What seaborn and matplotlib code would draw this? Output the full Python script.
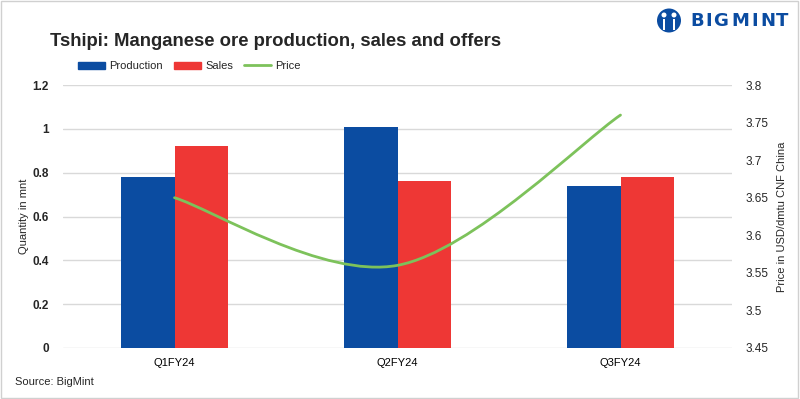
import matplotlib
matplotlib.use("Agg")
import matplotlib.pyplot as plt
import seaborn as sns
import pandas as pd
import numpy as np
from matplotlib.path import Path
from matplotlib.patches import PathPatch, Rectangle, Ellipse
from matplotlib.lines import Line2D
from matplotlib.patches import Patch

quarters = ["Q1FY24", "Q2FY24", "Q3FY24"]
production = [0.78, 1.01, 0.74]
sales = [0.92, 0.76, 0.78]
price = [3.65, 3.56, 3.76]
left_ticks = [0, 0.2, 0.4, 0.6, 0.8, 1.0, 1.2]
left_labels = ["0", "0.2", "0.4", "0.6", "0.8", "1", "1.2"]
right_ticks = [3.45, 3.5, 3.55, 3.6, 3.65, 3.7, 3.75, 3.8]
right_labels = ["3.45", "3.5", "3.55", "3.6", "3.65", "3.7", "3.75", "3.8"]

C_PROD = "#0b4ca1"
C_SALES = "#ee3735"
C_PRICE = "#7dc25b"
GRID = "#d9d9d9"

sns.set_theme(style="white")
plt.rcParams['font.family'] = ['Liberation Sans', 'DejaVu Sans']

df = pd.DataFrame({
    "Quarter": quarters * 2,
    "Value": production + sales,
    "Series": ["Production"] * 3 + ["Sales"] * 3,
})

W, H = 800, 399
fig = plt.figure(figsize=(8, 3.99), dpi=100)
ax = fig.add_axes([63/W, 1-348/H, (732-63)/W, (348-85)/H])
sns.barplot(data=df, x="Quarter", y="Value", hue="Series", order=quarters,
            hue_order=["Production", "Sales"], palette=[C_PROD, C_SALES],
            width=0.48, saturation=1, ax=ax, legend=False, errorbar=None)
for p in ax.patches:
    p.set_edgecolor("none")
ax.set_ylim(0, 1.2)
ax.set_xlim(-0.5, 2.5)
ax.set_yticks(left_ticks)
ax.set_yticklabels(left_labels, fontsize=8.5, fontweight="bold")
ax.yaxis.grid(True, color=GRID, linewidth=1)
ax.set_axisbelow(True)
for s in ax.spines.values():
    s.set_visible(False)
ax.tick_params(axis="y", length=0, pad=10)
ax.tick_params(axis="x", length=0, pad=7, labelsize=8)
ax.set_xlabel("")
ax.set_ylabel("Quantity in mnt", fontsize=8, labelpad=3)
for lbl in ax.get_xticklabels():
    lbl.set_color("black")

ax2 = ax.twinx()
ax2.set_ylim(3.45, 3.8)
ax2.set_yticks(right_ticks)
ax2.set_yticklabels(right_labels, fontsize=8.5)
ax2.tick_params(axis="y", length=0, pad=10)
for s in ax2.spines.values():
    s.set_visible(False)
ax2.set_ylabel("Price in USD/dmtu CNF China", fontsize=8, labelpad=6)

# smoothed price line (Excel-style bezier smoothing through data points)
xs = np.arange(len(price), dtype=float)
ys = np.array(price, dtype=float)
verts = [(xs[0], ys[0])]
codes = [Path.MOVETO]
n = len(xs)
for i in range(n - 1):
    p0 = np.array([xs[max(i-1, 0)], ys[max(i-1, 0)]])
    p1 = np.array([xs[i], ys[i]])
    p2 = np.array([xs[i+1], ys[i+1]])
    p3 = np.array([xs[min(i+2, n-1)], ys[min(i+2, n-1)]])
    c1 = p1 + (p2 - p0) / 6
    c2 = p2 - (p3 - p1) / 6
    verts += [tuple(c1), tuple(c2), tuple(p2)]
    codes += [Path.CURVE4] * 3
ax2.add_patch(PathPatch(Path(verts, codes), facecolor="none", edgecolor=C_PRICE,
                        linewidth=2, transform=ax2.transData, capstyle="round"))

# legend
handles = [Patch(color=C_PROD, label="Production"),
           Patch(color=C_SALES, label="Sales"),
           Line2D([0], [0], color=C_PRICE, lw=2, label="Price")]
fig.legend(handles=handles, loc="center left", bbox_to_anchor=(74/W, 1-66/H),
           ncol=3, frameon=False, fontsize=8, handlelength=2.4, handleheight=0.6,
           columnspacing=1.0, handletextpad=0.4, borderaxespad=0)

fig.text(50/W, 1-42/H, "Tshipi: Manganese ore production, sales and offers",
         fontsize=13.3, fontweight="bold", va="center", ha="left")
fig.text(15/W, 1-382/H, "Source: BigMint", fontsize=8, va="center", ha="left")

# logo
logo_x = [697, 708.5, 721, 740, 754.5, 767.5, 782]
for ch, lx in zip("BIGMINT", logo_x):
    fig.text(lx/W, 1-20.5/H, ch, fontsize=13, fontweight="bold", family="DejaVu Sans",
             color=C_PROD, va="center", ha="center")
fig.patches.append(Ellipse((669/W, 1-20.5/H), 24/W, 24/H, transform=fig.transFigure,
                           facecolor=C_PROD, edgecolor="none"))
for hx in (664, 674):
    fig.patches.append(Ellipse((hx/W, 1-15/H), 5/W, 5/H, transform=fig.transFigure,
                               facecolor="white", edgecolor="none"))
    fig.patches.append(Rectangle(((hx-1)/W, 1-30/H), 2/W, 11/H, transform=fig.transFigure,
                                 facecolor="white", edgecolor="none"))

# figure border
fig.patches.append(Rectangle((0.001, 0.002), 0.996, 0.996, transform=fig.transFigure,
                             fill=False, edgecolor="#d0d0d0", linewidth=1))

fig.savefig("out.png", dpi=100)
